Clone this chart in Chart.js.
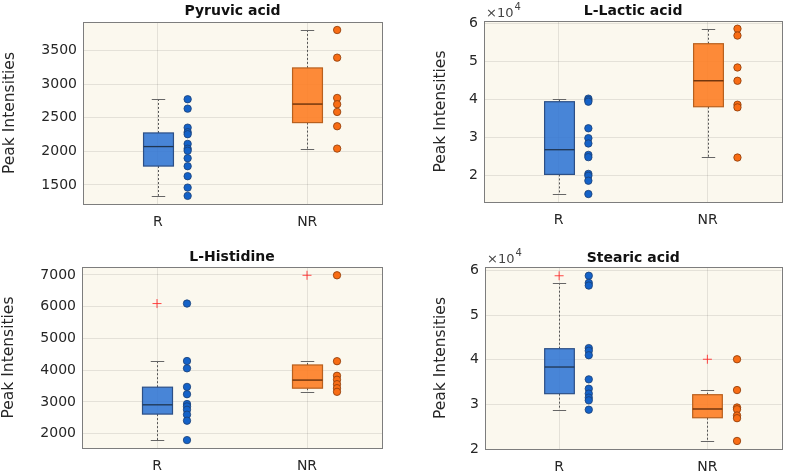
<!DOCTYPE html>
<html>
<head>
<meta charset="utf-8">
<script src="https://cdn.jsdelivr.net/npm/chart.js@4.4.1/dist/chart.umd.min.js"></script>
<style>
body { margin: 0; background: #fff; width: 787px; height: 471px; position: relative; overflow: hidden; }
canvas { position: absolute; }
</style>
</head>
<body>
<canvas id="c1" width="393" height="235" style="left:0;top:0"></canvas>
<canvas id="c2" width="387" height="235" style="left:400px;top:0"></canvas>
<canvas id="c3" width="393" height="236" style="left:0;top:235px"></canvas>
<canvas id="c4" width="387" height="236" style="left:400px;top:235px"></canvas>
<script>
const groups = ['R', 'NR']

// Pyruvic acid
const pyruvicR = [2777, 2637, 2354, 2286, 2256, 2112, 2040, 2010, 1899, 1780, 1631, 1461, 1338]
const pyruvicNR = [3808, 3396, 2796, 2702, 2588, 2375, 2042]
const pyruvicBoxR = [1338, 1782, 2072, 2275, 2777]   // low whisker, q1, median, q3, high whisker
const pyruvicBoxNR = [2042, 2429, 2705, 3243, 3808]
const pyruvicOutR = []
const pyruvicOutNR = []
const pyruvicTicks = [1500, 2000, 2500, 3000, 3500]

// L-Lactic acid
const lacticR = [40100, 39700, 39300, 32300, 29700, 28300, 25300, 24700, 20300, 19800, 18500, 15000]
const lacticNR = [58500, 56700, 48300, 44800, 38500, 37800, 24600]
const lacticBoxR = [15000, 20160, 26660, 39290, 40000]
const lacticBoxNR = [24630, 37970, 44800, 54550, 58500]
const lacticOutR = []
const lacticOutNR = []
const lacticTicks = [20000, 30000, 40000, 50000, 60000]

// L-Histidine
const histidineR = [6100, 4290, 4060, 3475, 3245, 2935, 2860, 2755, 2600, 2410, 1800]
const histidineNR = [6990, 4285, 3825, 3700, 3560, 3435, 3320]
const histidineBoxR = [1803, 2619, 2911, 3466, 4292]
const histidineBoxNR = [3330, 3435, 3690, 4166, 4280]
const histidineOutR = [6100]
const histidineOutNR = [6990]
const histidineTicks = [2000, 3000, 4000, 5000, 6000, 7000]

// Stearic acid
const stearicR = [58800, 57200, 56600, 42600, 42000, 41000, 35600, 33500, 32400, 31500, 30900, 28800]
const stearicNR = [40100, 33200, 29300, 28900, 27500, 26900, 21800]
const stearicBoxR = [28800, 32390, 38360, 42460, 57180]
const stearicBoxNR = [21860, 27000, 28960, 32160, 33220]
const stearicOutR = [58800]
const stearicOutNR = [40100]
const stearicTicks = [20000, 30000, 40000, 50000, 60000]

const blueBox = 'rgba(52,120,212,0.9)'
const blueEdge = '#2c4f86'
const blueDot = '#1462c8'
const orangeBox = 'rgba(253,128,40,0.92)'
const orangeEdge = '#b8601e'
const orangeDot = '#f86c14'
const plotBg = '#fbf8ee'
const textColor = '#262626'
const fontName = '"DejaVu Sans", sans-serif'

const boxPlugin = {
    id: 'boxes',
    beforeDraw(chart, args, opts) {
        const a = chart.chartArea
        const ctx = chart.ctx
        ctx.save()
        ctx.fillStyle = plotBg
        ctx.fillRect(a.left, a.top, a.right - a.left, a.bottom - a.top)
        ctx.restore()
    },
    beforeDatasetsDraw(chart, args, opts) {
        const ctx = chart.ctx
        const xs = chart.scales.x, ys = chart.scales.y
        ctx.save()
        opts.boxes.forEach((b, i) => {
            const cx = Math.round(xs.getPixelForValue(i + 1)) + 0.5
            const half = xs.getPixelForValue(i + 1.1) - xs.getPixelForValue(i + 1)
            const cap = xs.getPixelForValue(i + 1.045) - xs.getPixelForValue(i + 1)
            const [lo, q1, med, q3, hi] = b.stats.map(v => ys.getPixelForValue(v))
            // whiskers
            ctx.strokeStyle = '#555'
            ctx.lineWidth = 1
            ctx.setLineDash([2, 2])
            ctx.beginPath()
            ctx.moveTo(cx, q3); ctx.lineTo(cx, hi)
            ctx.moveTo(cx, q1); ctx.lineTo(cx, lo)
            ctx.stroke()
            ctx.setLineDash([])
            ctx.strokeStyle = '#666'
            ctx.beginPath()
            ctx.moveTo(cx - cap, Math.round(hi) + 0.5); ctx.lineTo(cx + cap, Math.round(hi) + 0.5)
            ctx.moveTo(cx - cap, Math.round(lo) + 0.5); ctx.lineTo(cx + cap, Math.round(lo) + 0.5)
            ctx.stroke()
            // box
            ctx.fillStyle = b.fill
            ctx.fillRect(cx - half, q3, half * 2, q1 - q3)
            ctx.strokeStyle = b.edge
            ctx.lineWidth = 1.2
            ctx.strokeRect(cx - half, q3, half * 2, q1 - q3)
            ctx.lineWidth = 1.3
            ctx.strokeStyle = b.median
            ctx.beginPath()
            ctx.moveTo(cx - half, med); ctx.lineTo(cx + half, med)
            ctx.stroke()
        })
        ctx.restore()
    },
    afterDraw(chart, args, opts) {
        const ctx = chart.ctx
        const a = chart.chartArea
        ctx.save()
        ctx.strokeStyle = '#7d7d7d'
        ctx.lineWidth = 1
        ctx.strokeRect(Math.round(a.left) + 0.5, Math.round(a.top) + 0.5,
            Math.round(a.right - a.left), Math.round(a.bottom - a.top))
        ctx.fillStyle = '#111'
        ctx.font = 'bold 14px ' + fontName
        ctx.textAlign = 'center'
        ctx.textBaseline = 'middle'
        ctx.fillText(opts.title, (a.left + a.right) / 2, a.top - opts.titleGap)
        if (opts.exp) {
            ctx.fillStyle = '#444'
            ctx.textAlign = 'left'
            ctx.textBaseline = 'alphabetic'
            ctx.font = '13px ' + fontName
            ctx.fillText('\u00d710', a.left + 2, a.top - 4)
            const w = ctx.measureText('\u00d710').width
            ctx.font = '10px ' + fontName
            ctx.fillText('4', a.left + 3 + w, a.top - 11)
        }
        ctx.restore()
    }
}

function makePanel(id, title, dotsR, dotsNR, boxR, boxNR, outR, outNR, yTicks, yMin, yMax, exp, pad) {
    const ctx = document.getElementById(id).getContext('2d')
    return new Chart(ctx, {
        type: 'scatter',
        data: {
            datasets: [{
                data: dotsR.map(v => ({ x: 1.2, y: v })),
                backgroundColor: blueDot,
                borderColor: '#1a3f73',
                borderWidth: 0.8,
                pointRadius: 3.7
            }, {
                data: dotsNR.map(v => ({ x: 2.2, y: v })),
                backgroundColor: orangeDot,
                borderColor: '#8a3a08',
                borderWidth: 0.8,
                pointRadius: 3.7
            }, {
                data: outR.map(v => ({ x: 1, y: v })).concat(outNR.map(v => ({ x: 2, y: v }))),
                pointStyle: 'cross',
                borderColor: 'rgba(255,40,40,0.85)',
                borderWidth: 1,
                pointRadius: 4.5
            }]
        },
        options: {
            responsive: false,
            animation: false,
            layout: {
                padding: { top: pad.top, right: pad.right, left: 0, bottom: 0 }
            },
            plugins: {
                legend: { display: false },
                tooltip: { enabled: false },
                boxes: {
                    title: title,
                    titleGap: pad.titleGap,
                    exp: exp,
                    boxes: [
                        { stats: boxR, fill: blueBox, edge: blueEdge, median: '#1f3550' },
                        { stats: boxNR, fill: orangeBox, edge: orangeEdge, median: '#5e2a08' }
                    ]
                }
            },
            scales: {
                x: {
                    type: 'linear',
                    min: 0.5,
                    max: 2.5,
                    afterBuildTicks: s => { s.ticks = [{ value: 1 }, { value: 2 }] },
                    afterFit: s => { s.height = pad.bottom },
                    border: { display: false },
                    grid: { color: 'rgba(0,0,0,0.09)', drawTicks: false },
                    ticks: {
                        padding: pad.xPad,
                        color: textColor,
                        font: { family: fontName, size: 14 },
                        callback: v => groups[v - 1]
                    }
                },
                y: {
                    min: yMin,
                    max: yMax,
                    afterBuildTicks: s => { s.ticks = yTicks.map(v => ({ value: v })) },
                    afterFit: s => { s.width = pad.left },
                    border: { display: false },
                    grid: { color: 'rgba(0,0,0,0.09)', drawTicks: false },
                    title: {
                        display: true,
                        text: 'Peak Intensities',
                        color: textColor,
                        font: { family: fontName, size: 15.5 },
                        padding: { top: pad.yTitle, bottom: 0 }
                    },
                    ticks: {
                        padding: 6,
                        color: textColor,
                        font: { family: fontName, size: 14 },
                        callback: v => exp ? String(v / 10000) : String(v)
                    }
                }
            }
        },
        plugins: [boxPlugin]
    })
}

makePanel('c1', 'Pyruvic acid', pyruvicR, pyruvicNR, pyruvicBoxR, pyruvicBoxNR, pyruvicOutR, pyruvicOutNR,
    pyruvicTicks, 1217, 3927, false, { top: 22, right: 11, left: 83, bottom: 31, xPad: 10, titleGap: 10.5, yTitle: 1 })
makePanel('c2', 'L-Lactic acid', lacticR, lacticNR, lacticBoxR, lacticBoxNR, lacticOutR, lacticOutNR,
    lacticTicks, 12900, 60530, true, { top: 21, right: 2, left: 84, bottom: 33, xPad: 10, titleGap: 10, yTitle: 32 })
makePanel('c3', 'L-Histidine', histidineR, histidineNR, histidineBoxR, histidineBoxNR, histidineOutR, histidineOutNR,
    histidineTicks, 1551, 7251, false, { top: 32, right: 11, left: 82, bottom: 23, xPad: 10, titleGap: 9.5, yTitle: 0 })
makePanel('c4', 'Stearic acid', stearicR, stearicNR, stearicBoxR, stearicBoxNR, stearicOutR, stearicOutNR,
    stearicTicks, 20000, 60760, true, { top: 32, right: 2, left: 85, bottom: 22, xPad: 10, titleGap: 9, yTitle: 32 })
</script>
</body>
</html>
